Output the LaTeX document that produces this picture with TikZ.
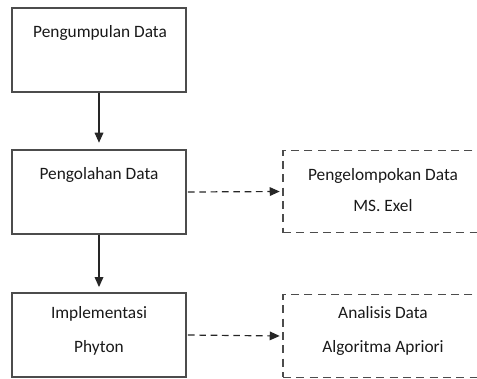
\documentclass[tikz,border=0pt]{standalone}
\usepackage{fontspec}
\setmainfont{Carlito}
\usetikzlibrary{arrows.meta}
\begin{document}
\begin{tikzpicture}
[
 x=0.75pt, y=-0.75pt,
 inner sep=0mm,
 BOX/.style={rectangle, draw=black!70, line width=0.9pt, minimum width=130.5pt, minimum height=63pt},
 DBOX/.style={rectangle, draw=black!70, line width=0.9pt, dash pattern=on 6pt off 4pt, minimum width=150pt, minimum height=62pt},
 LBL/.style={font=\fontsize{13}{26}\selectfont, text=black!90, align=center},
 ARR/.style={draw=black!85, line width=0.9pt, -{Triangle[length=7.5pt,width=6.5pt]}},
 DARR/.style={ARR, dash pattern=on 5pt off 3.5pt},
 ]
%
\useasboundingbox (0,0) rectangle (477,378);
\clip (0,0) rectangle (477,378);
%
\node [BOX]   (B1)   at ( 99,  50)  {};
\node [BOX]   (B2)   at ( 99, 192)  {};
\node [BOX]   (B3)   at ( 99, 335)  {};
\node [DBOX]  (D2)   at (383, 191.5)  {};
\node [DBOX]  (D3)   at (383, 336)  {};
%
\node [LBL]  (T1)   at (100,  33)  {Pengumpulan Data};
\node [LBL]  (T2)   at ( 99, 175)  {Pengolahan Data};
\node [LBL]  (T3)   at ( 99, 331)  {Implementasi\\Phyton};
\node [LBL]  (U2)   at (383, 190)  {Pengelompokan Data\\[-3pt]MS. Exel};
\node [LBL]  (U3)   at (383, 331)  {Analisis Data\\Algoritma Apriori};
%
\draw [ARR, shorten >=5pt]  (B1.south) -- (B2.north) ;
\draw [ARR, shorten >=4pt]  (B2.south) -- (B3.north) ;
%
\draw [DARR, shorten <=1pt, shorten >=2pt]  (B2.east) -- (D2.west) ;
\draw [DARR, shorten <=1pt, shorten >=2pt]  (B3.east) -- (D3.west) ;
%
\end{tikzpicture}
\end{document}
